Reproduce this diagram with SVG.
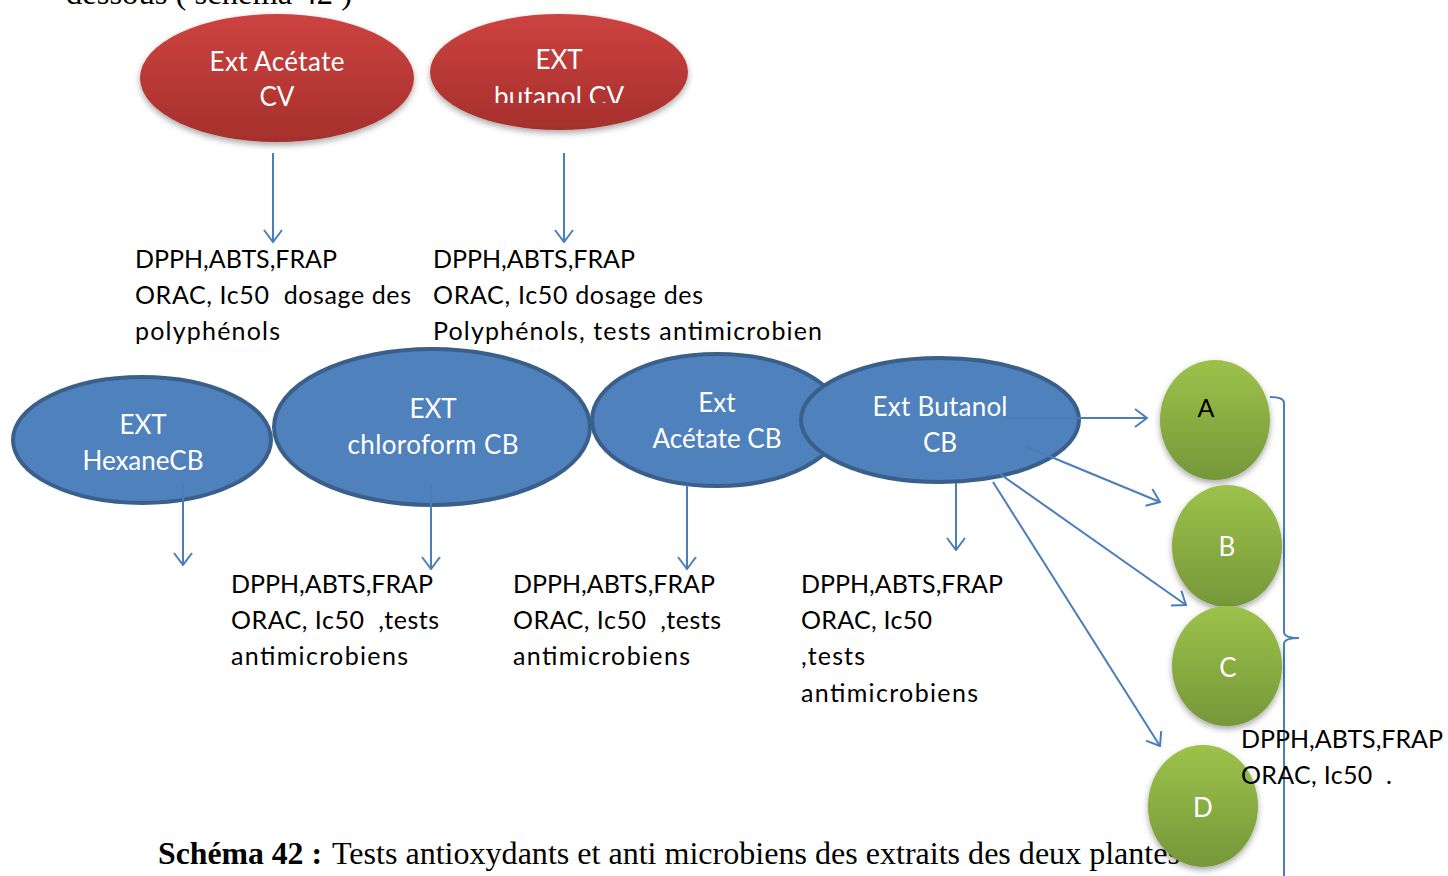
<svg xmlns="http://www.w3.org/2000/svg" width="1448" height="876" viewBox="0 0 1448 876">
  <defs>
    <linearGradient id="gRed" x1="0" y1="0" x2="0" y2="1">
      <stop offset="0" stop-color="#cd4340"/>
      <stop offset="1" stop-color="#a52f2c"/>
    </linearGradient>
    <linearGradient id="gGreen" x1="0" y1="0" x2="0" y2="1">
      <stop offset="0" stop-color="#9dc24a"/>
      <stop offset="1" stop-color="#76973a"/>
    </linearGradient>
    <filter id="shadow" x="-20%" y="-20%" width="140%" height="150%">
      <feDropShadow dx="0" dy="3" stdDeviation="3" flood-color="#000" flood-opacity="0.35"/>
    </filter>
    <clipPath id="clipButanol">
      <rect x="430" y="30" width="260" height="73"/>
    </clipPath>
    <marker id="arr" viewBox="0 0 14 20" refX="13" refY="10" markerWidth="14" markerHeight="20" markerUnits="userSpaceOnUse" orient="auto">
      <path d="M1,1 L13,10 L1,19" fill="none" stroke="#4a7ebb" stroke-width="2"/>
    </marker>
    <style>
      .lbl { font-family: Lato, "Open Sans", sans-serif; font-size: 25px; fill: #000; }
      .nodeW { font-family: Lato, "Open Sans", sans-serif; font-size: 26px; fill: #fff; text-anchor: middle; }
      .nodeK { font-family: Lato, "Open Sans", sans-serif; font-size: 25px; fill: #000; text-anchor: middle; }
      .red { fill: url(#gRed); filter: url(#shadow); }
      .blue { fill: #4f81bd; stroke: #3a5f8b; stroke-width: 4; }
      .green { fill: url(#gGreen); filter: url(#shadow); }
      .conn { stroke: #4a7ebb; stroke-width: 2; fill: none; }
      .cap { font-family: "Liberation Serif", serif; font-size: 31px; fill: #000; }
    </style>
  </defs>

  <rect width="1448" height="876" fill="#fff"/>

  <!-- running text line above the figure -->
  <text class="cap" x="66" y="4" textLength="286" lengthAdjust="spacingAndGlyphs">dessous ( schéma 42 )</text>

  <!-- plant CV extracts -->
  <g id="ext-acetate-cv">
    <ellipse class="red" cx="277" cy="78" rx="137" ry="64"/>
    <text class="nodeW" x="277" y="71" textLength="135">Ext Acétate</text>
    <text class="nodeW" x="277" y="106">CV</text>
  </g>
  <g id="ext-butanol-cv">
    <ellipse class="red" cx="559" cy="72" rx="129" ry="58"/>
    <text class="nodeW" x="559" y="69">EXT</text>
    <text class="nodeW" x="559" y="106" textLength="130" clip-path="url(#clipButanol)">butanol CV</text>
  </g>

  <!-- plant CB extracts -->
  <g id="ext-hexane-cb">
    <ellipse class="blue" cx="142" cy="440" rx="129" ry="63"/>
    <text class="nodeW" x="143" y="434">EXT</text>
    <text class="nodeW" x="143" y="470" textLength="121">HexaneCB</text>
  </g>
  <g id="ext-chloroform-cb">
    <ellipse class="blue" cx="432" cy="427" rx="158" ry="78"/>
    <text class="nodeW" x="433" y="418">EXT</text>
    <text class="nodeW" x="433" y="454" textLength="171">chloroform CB</text>
  </g>
  <g id="ext-acetate-cb">
    <ellipse class="blue" cx="717" cy="420" rx="125" ry="66"/>
    <text class="nodeW" x="717" y="412">Ext</text>
    <text class="nodeW" x="717" y="448" textLength="129">Acétate CB</text>
  </g>
  <g id="ext-butanol-cb">
    <ellipse class="blue" cx="940" cy="420" rx="139" ry="62"/>
    <text class="nodeW" x="940" y="416" textLength="135">Ext Butanol</text>
    <text class="nodeW" x="940" y="452">CB</text>
  </g>

  <!-- connectors -->
  <g id="connectors">
    <line class="conn" x1="273" y1="153" x2="273" y2="242" marker-end="url(#arr)"/>
    <line class="conn" x1="564" y1="153" x2="564" y2="242" marker-end="url(#arr)"/>
    <line class="conn" x1="183" y1="483" x2="183" y2="565" marker-end="url(#arr)"/>
    <line class="conn" x1="431" y1="485" x2="431" y2="569" marker-end="url(#arr)"/>
    <line class="conn" x1="687" y1="485" x2="687" y2="569" marker-end="url(#arr)"/>
    <line class="conn" x1="956" y1="483" x2="956" y2="550" marker-end="url(#arr)"/>
    <line class="conn" x1="1005" y1="418" x2="1147" y2="418" marker-end="url(#arr)"/>
    <line class="conn" x1="1027" y1="447" x2="1160" y2="502" marker-end="url(#arr)"/>
    <line class="conn" x1="1000" y1="474" x2="1186" y2="605" marker-end="url(#arr)"/>
    <line class="conn" x1="993" y1="482" x2="1160" y2="746" marker-end="url(#arr)"/>
    <path class="conn" d="M1270,397 Q1284,397 1284,403 V632 Q1284,638 1299,638 Q1284,638 1284,644 V890"/>
  </g>

  <!-- test labels -->
  <g id="tests-acetate-cv">
    <text class="lbl" x="135" y="268" textLength="202">DPPH,ABTS,FRAP</text>
    <text class="lbl" x="135" y="304" textLength="276" xml:space="preserve">ORAC, Ic50  dosage des</text>
    <text class="lbl" x="135" y="340" textLength="145">polyphénols</text>
  </g>
  <g id="tests-butanol-cv">
    <text class="lbl" x="433" y="268" textLength="202">DPPH,ABTS,FRAP</text>
    <text class="lbl" x="433" y="304" textLength="270">ORAC, Ic50 dosage des</text>
    <text class="lbl" x="433" y="340" textLength="389">Polyphénols, tests antimicrobien</text>
  </g>
  <g id="tests-chloroform-cb">
    <text class="lbl" x="231" y="593" textLength="202">DPPH,ABTS,FRAP</text>
    <text class="lbl" x="231" y="629" textLength="208" xml:space="preserve">ORAC, Ic50  ,tests</text>
    <text class="lbl" x="231" y="665" textLength="177">antimicrobiens</text>
  </g>
  <g id="tests-acetate-cb">
    <text class="lbl" x="513" y="593" textLength="202">DPPH,ABTS,FRAP</text>
    <text class="lbl" x="513" y="629" textLength="208" xml:space="preserve">ORAC, Ic50  ,tests</text>
    <text class="lbl" x="513" y="665" textLength="177">antimicrobiens</text>
  </g>
  <g id="tests-butanol-cb">
    <text class="lbl" x="801" y="593" textLength="202">DPPH,ABTS,FRAP</text>
    <text class="lbl" x="801" y="629" textLength="131">ORAC, Ic50</text>
    <text class="lbl" x="801" y="665" textLength="64">,tests</text>
    <text class="lbl" x="801" y="702" textLength="177">antimicrobiens</text>
  </g>

  <!-- caption -->
  <g id="caption">
    <text class="cap" x="158" y="864" font-weight="bold" textLength="164" lengthAdjust="spacingAndGlyphs">Schéma 42 :</text>
    <text class="cap" x="332" y="864" textLength="848" lengthAdjust="spacingAndGlyphs">Tests antioxydants et anti microbiens des extraits des deux plantes</text>
  </g>

  <!-- fractions A-D -->
  <g id="fraction-a">
    <ellipse class="green" cx="1215" cy="420" rx="55" ry="60"/>
    <text class="nodeK" x="1206" y="417">A</text>
  </g>
  <g id="fraction-b">
    <ellipse class="green" cx="1227" cy="546" rx="55" ry="61"/>
    <text class="nodeW" x="1227" y="556" font-size="24">B</text>
  </g>
  <g id="fraction-c">
    <ellipse class="green" cx="1227" cy="666" rx="55" ry="60"/>
    <text class="nodeW" x="1228" y="677" font-size="24">C</text>
  </g>
  <g id="fraction-d">
    <ellipse class="green" cx="1203" cy="806" rx="55" ry="61"/>
    <text class="nodeW" x="1203" y="817" font-size="24">D</text>
  </g>

  <g id="tests-fractions">
    <text class="lbl" x="1241" y="748" textLength="202">DPPH,ABTS,FRAP</text>
    <text class="lbl" x="1241" y="784" textLength="151" xml:space="preserve">ORAC, Ic50  .</text>
  </g>
</svg>
